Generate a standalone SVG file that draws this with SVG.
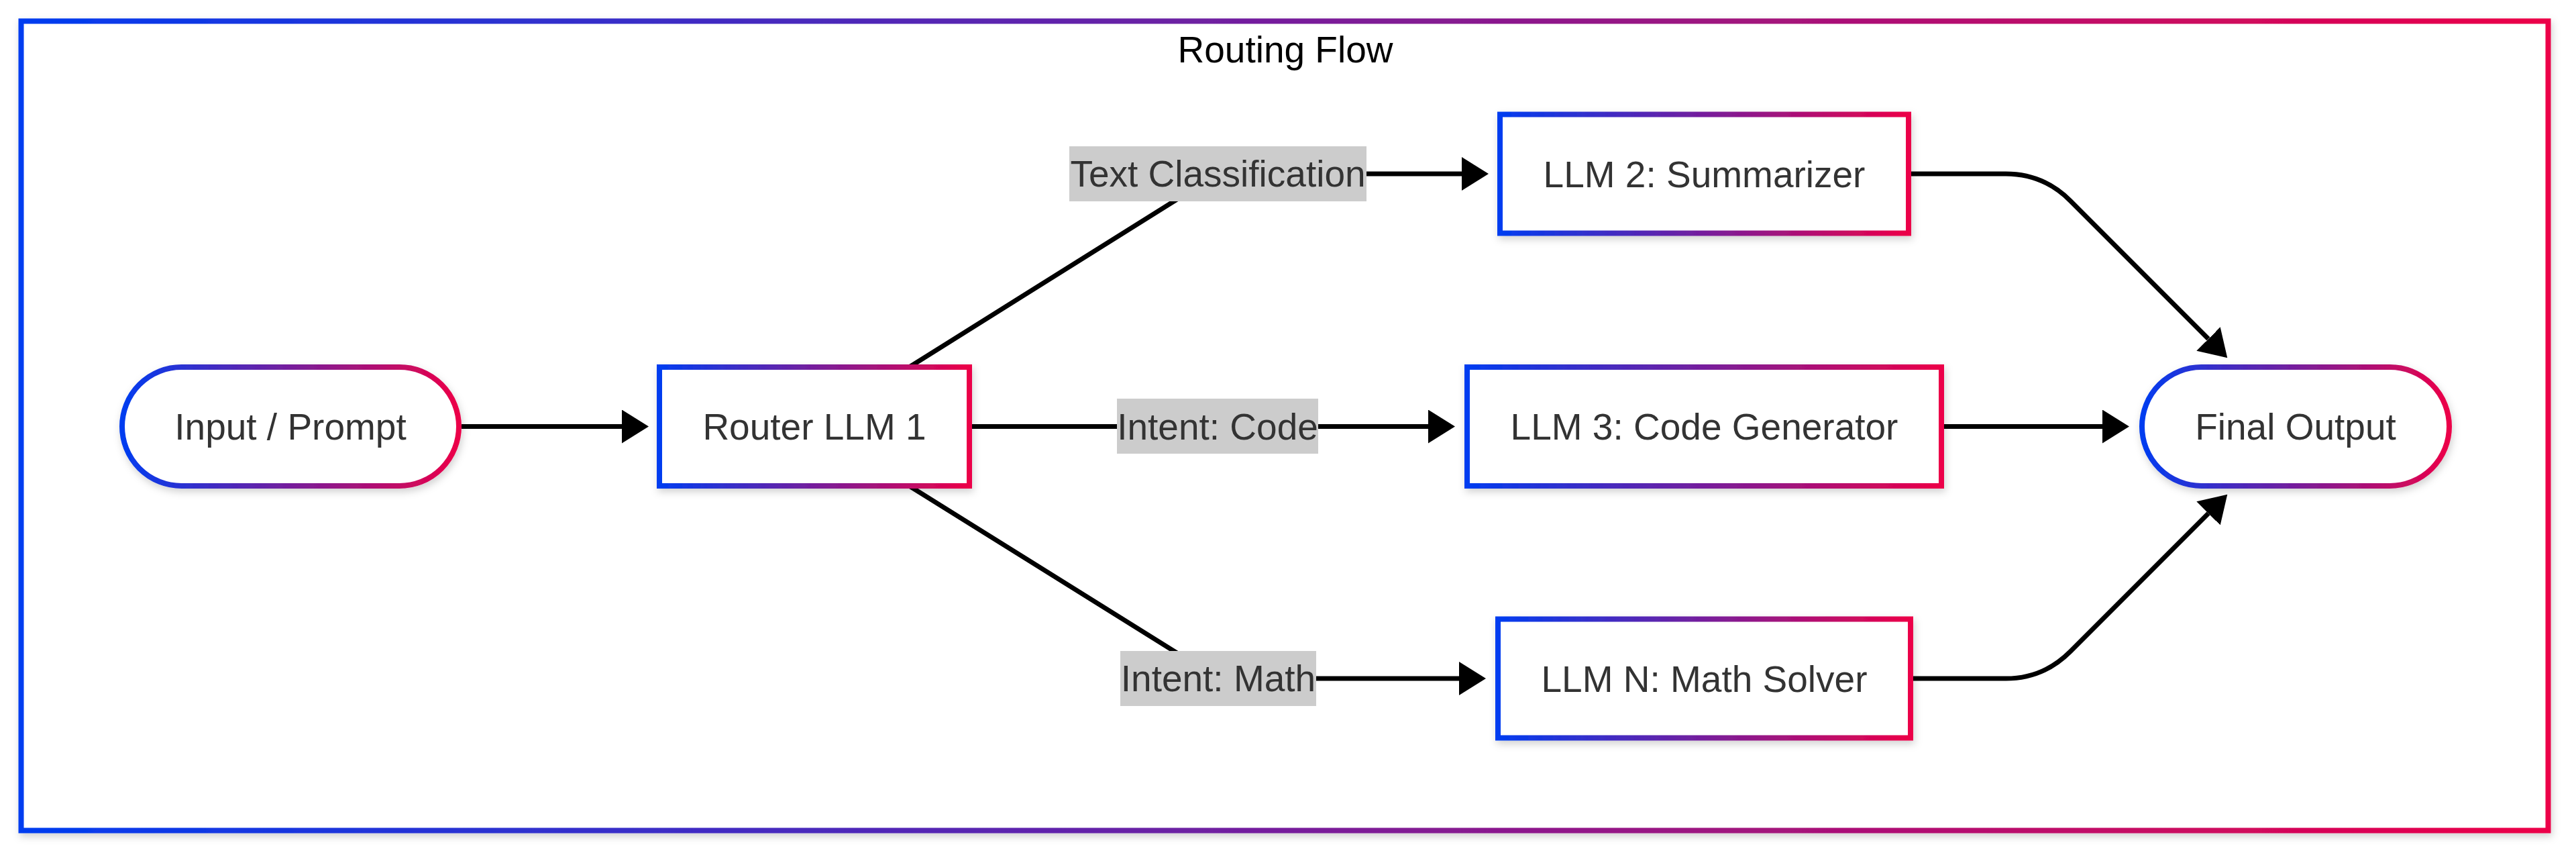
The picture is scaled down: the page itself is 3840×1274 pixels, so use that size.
<svg xmlns="http://www.w3.org/2000/svg" width="3840" height="1274" viewBox="0 0 3840 1274">
  <defs>
    <linearGradient id="grad" x1="0" y1="0" x2="1" y2="0">
      <stop offset="0" stop-color="#003cf0"/>
      <stop offset="1" stop-color="#ec0048"/>
    </linearGradient>
    <filter id="shadow" x="-10%" y="-10%" width="120%" height="130%">
      <feDropShadow dx="2" dy="5" stdDeviation="6" flood-color="#000" flood-opacity="0.18"/>
    </filter>
    <marker id="arrow" markerUnits="userSpaceOnUse" markerWidth="40" markerHeight="50" refX="0" refY="25" orient="auto">
      <path d="M0,0 L40,25 L0,50 Z" fill="#000"/>
    </marker>
    <style>
      .node rect { fill: #ffffff; stroke: url(#grad); stroke-width: 8; filter: url(#shadow); }
      .cluster rect { fill: #ffffff; stroke: url(#grad); stroke-width: 8; filter: url(#shadow); }
      .label { font-family: "Liberation Sans", Arial, Helvetica, sans-serif; font-size: 55px; fill: #333333; text-anchor: middle; }
      .title { font-family: "Liberation Sans", Arial, Helvetica, sans-serif; font-size: 55px; fill: #000000; text-anchor: middle; }
      .edge { fill: none; stroke: #000000; stroke-width: 7; marker-end: url(#arrow); }
      .edgeLabel rect { fill: #cccccc; }
    </style>
  </defs>

  <rect width="3840" height="1274" fill="#ffffff"/>

  <g id="cluster-routing-flow" class="cluster">
    <rect x="31.5" y="31.5" width="3767" height="1206"/>
    <text class="title" x="1916" y="93">Routing Flow</text>
  </g>

  <g id="connectors">
    <path class="edge" d="M688,635.5 L927,635.5"/>
    <path class="edge" d="M1357,546 L1815.5,259 L2179,259"/>
    <path class="edge" d="M1445,635.5 L2129,635.5"/>
    <path class="edge" d="M1357,725 L1815.5,1011 L2175,1011"/>
    <path class="edge" d="M2849,259 L2990,259 Q3046,259 3086,299 L3292,505"/>
    <path class="edge" d="M2897,635.5 L3134,635.5"/>
    <path class="edge" d="M2852,1011 L2990,1011 Q3046,1011 3086,971 L3292,765"/>
  </g>

  <g id="edge-labels">
    <g id="label-text-classification" class="edgeLabel">
      <rect x="1594" y="218" width="443" height="82"/>
      <text class="label" x="1815.5" y="278">Text Classification</text>
    </g>
    <g id="label-intent-code" class="edgeLabel">
      <rect x="1665" y="594" width="300" height="82"/>
      <text class="label" x="1815" y="654.5">Intent: Code</text>
    </g>
    <g id="label-intent-math" class="edgeLabel">
      <rect x="1670" y="970" width="292" height="82"/>
      <text class="label" x="1816" y="1030">Intent: Math</text>
    </g>
  </g>

  <g id="node-input" class="node">
    <rect x="182" y="547" width="502" height="177" rx="88.5" ry="88.5"/>
    <text class="label" x="433" y="655">Input / Prompt</text>
  </g>
  <g id="node-router" class="node">
    <rect x="983" y="547" width="462" height="177"/>
    <text class="label" x="1214" y="655">Router LLM 1</text>
  </g>
  <g id="node-summarizer" class="node">
    <rect x="2236" y="170.5" width="609" height="177"/>
    <text class="label" x="2540.5" y="278.5">LLM 2: Summarizer</text>
  </g>
  <g id="node-codegen" class="node">
    <rect x="2187" y="547" width="707" height="177"/>
    <text class="label" x="2540.5" y="655">LLM 3: Code Generator</text>
  </g>
  <g id="node-math" class="node">
    <rect x="2233" y="922.5" width="615" height="177"/>
    <text class="label" x="2540.5" y="1030.5">LLM N: Math Solver</text>
  </g>
  <g id="node-final" class="node">
    <rect x="3193" y="547" width="458" height="177" rx="88.5" ry="88.5"/>
    <text class="label" x="3422" y="655">Final Output</text>
  </g>
</svg>
